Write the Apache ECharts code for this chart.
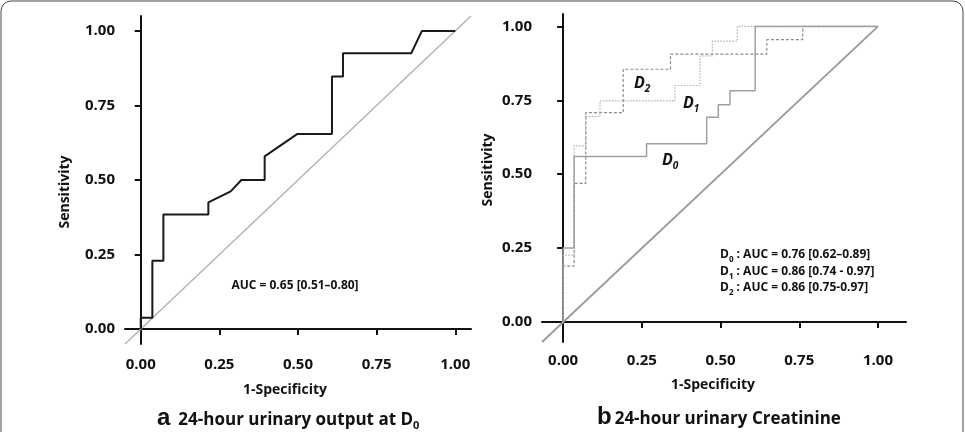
<!DOCTYPE html>
<html>
<head>
<meta charset="utf-8">
<title>ROC curves</title>
<script src="https://cdn.jsdelivr.net/npm/echarts@6/dist/echarts.min.js"></script>
<style>
  html, body { margin: 0; padding: 0; background: #fff; }
  #main { width: 965px; height: 432px; }
</style>
</head>
<body>
<div id="main"></div>
<script>
// tick values shared by both panels
const tickValues = [0, 0.25, 0.5, 0.75, 1];

// panel a: 24-hour urinary output at D0
const aFpr = [0, 0, 0.037, 0.037, 0.072, 0.072, 0.215, 0.215, 0.286, 0.32, 0.394, 0.394, 0.497, 0.608, 0.608, 0.643, 0.643, 0.86, 0.894, 1.0];
const aTpr = [0, 0.038, 0.038, 0.229, 0.229, 0.384, 0.384, 0.425, 0.462, 0.5, 0.5, 0.579, 0.654, 0.654, 0.847, 0.847, 0.925, 0.925, 1.0, 1.0];
const aDiagX = [-0.05, 1.05];
const aDiagY = [-0.05, 1.05];

// panel b: 24-hour urinary creatinine, D0 / D1 / D2
const d0Fpr = [0, 0, 0.035, 0.035, 0.265, 0.265, 0.456, 0.456, 0.493, 0.493, 0.53, 0.53, 0.61, 0.61, 1];
const d0Tpr = [0, 0.25, 0.25, 0.56, 0.56, 0.603, 0.603, 0.693, 0.693, 0.735, 0.735, 0.782, 0.782, 1, 1];
const d1Fpr = [0, 0, 0.035, 0.035, 0.072, 0.072, 0.117, 0.117, 0.355, 0.355, 0.435, 0.435, 0.474, 0.474, 0.553, 0.553, 1];
const d1Tpr = [0, 0.226, 0.226, 0.596, 0.596, 0.695, 0.695, 0.748, 0.748, 0.8, 0.8, 0.9, 0.9, 0.95, 0.95, 1, 1];
const d2Fpr = [0, 0, 0.035, 0.035, 0.072, 0.072, 0.191, 0.191, 0.341, 0.341, 0.647, 0.647, 0.761, 0.761, 1];
const d2Tpr = [0, 0.189, 0.189, 0.469, 0.469, 0.708, 0.708, 0.855, 0.855, 0.906, 0.906, 0.955, 0.955, 1, 1];
const bDiagX = [-0.067, 1];
const bDiagY = [-0.068, 1];

const zip = (xs, ys) => xs.map((x, i) => [x, ys[i]]);

const FONT = '"Open Sans", "Liberation Sans", sans-serif';

const axisCommon = {
  type: 'value',
  splitLine: { show: false },
  axisLine: { show: true, lineStyle: { color: '#111', width: 2 } },
  axisTick: { show: true, customValues: tickValues, length: 6, lineStyle: { color: '#111', width: 2 } },
  axisLabel: {
    customValues: tickValues,
    formatter: v => v.toFixed(2),
    color: '#111', fontFamily: FONT, fontWeight: 'bold', fontSize: 15
  }
};

const makeX = (gridIndex, min, max, margin) => Object.assign({}, axisCommon, {
  gridIndex, min, max,
  axisLabel: Object.assign({}, axisCommon.axisLabel, { margin })
});
const makeY = (gridIndex, min, max) => Object.assign({}, axisCommon, {
  gridIndex, min, max,
  axisLabel: Object.assign({}, axisCommon.axisLabel, { margin: 10 })
});

const line = (name, idx, data, color, width, type) => ({
  name, type: 'line', xAxisIndex: idx, yAxisIndex: idx,
  data, showSymbol: false, animation: false,
  lineStyle: { color, width, type: type || 'solid' }
});

const txt = (x, y, text, size, extra) => Object.assign({
  type: 'text', x, y,
  style: { text, fill: '#111', font: 'bold ' + (size || 14) + 'px ' + FONT, textAlign: 'center', textVerticalAlign: 'middle' }
}, extra);

// rich text pieces for subscripts
const subRich = (size, italic, gap) => ({
  m: { fontFamily: FONT, fontWeight: 'bold', fontStyle: italic ? 'italic' : 'normal', fontSize: size, verticalAlign: 'top', lineHeight: size + 2, fill: '#111' },
  s: { fontFamily: FONT, fontWeight: 'bold', fontStyle: italic ? 'italic' : 'normal', fontSize: Math.round(size * 0.65), verticalAlign: 'top', lineHeight: Math.round(size * 0.65), padding: [Math.round(size * 0.55), 0, 0, 0], fill: '#111' },
  big: { fontFamily: '"Liberation Sans", sans-serif', fontWeight: 'bold', fontSize: size + 7, verticalAlign: 'top', lineHeight: size + 2, padding: [-5, gap || 4, 0, 0], fill: '#111' }
});

const richTxt = (x, y, text, rich) => ({
  type: 'text', x, y,
  style: { text, rich, textAlign: 'left', textVerticalAlign: 'middle' }
});

const chart = echarts.init(document.getElementById('main'));
chart.setOption({
  backgroundColor: '#fff',
  animation: false,
  grid: [
    { left: 125, top: 16, width: 346, height: 328 },
    { left: 542, top: 14, width: 364, height: 328 }
  ],
  xAxis: [makeX(0, -0.05, 1.05, 13), makeX(1, -0.067, 1.089, 11)],
  yAxis: [makeY(0, -0.05, 1.05), makeY(1, -0.068, 1.042)],
  series: [
    line('diagonal a', 0, zip(aDiagX, aDiagY), '#b4b4b4', 1.5),
    line('output D0', 0, zip(aFpr, aTpr), '#1a1a1a', 2),
    line('diagonal b', 1, zip(bDiagX, bDiagY), '#9a9a9a', 1.8),
    line('D2', 1, zip(d2Fpr, d2Tpr), '#8a8a8a', 1.2, [3, 2]),
    line('D1', 1, zip(d1Fpr, d1Tpr), '#b0b0b0', 1.2, [1.5, 1.5]),
    line('D0', 1, zip(d0Fpr, d0Tpr), '#a0a0a0', 1.5)
  ],
  graphic: [
    // figure frame
    { type: 'rect', shape: { x: 1, y: 1, width: 962, height: 460, r: 10 }, style: { fill: 'none', stroke: '#444', lineWidth: 1 } },
    // axis titles
    txt(65, 192, 'Sensitivity', 14, { rotation: Math.PI / 2 }),
    txt(488, 170, 'Sensitivity', 14, { rotation: Math.PI / 2 }),
    txt(285, 390, '1-Specificity'),
    txt(713, 385, '1-Specificity'),
    // annotations
    txt(295, 286, 'AUC = 0.65 [0.51\u20130.80]', 12),
    richTxt(720, 256, '{m|D}{s|0}{m| : AUC = 0.76 [0.62\u20130.89]}', subRich(12)),
    richTxt(720, 273, '{m|D}{s|1}{m| : AUC = 0.86 [0.74 - 0.97]}', subRich(12)),
    richTxt(720, 289, '{m|D}{s|2}{m| : AUC = 0.86 [0.75-0.97]}', subRich(12)),
    richTxt(634, 84, '{m|D}{s|2}', subRich(16, true)),
    richTxt(683, 104, '{m|D}{s|1}', subRich(16, true)),
    richTxt(662, 161, '{m|D}{s|0}', subRich(16, true)),
    // captions
    richTxt(157, 421, '{big|a}{m|24-hour urinary output at D}{s|0}', subRich(17, false, 8)),
    richTxt(597, 420, '{big|b}{m|24-hour urinary Creatinine}', subRich(17, false, 3))
  ]
});
</script>
</body>
</html>
